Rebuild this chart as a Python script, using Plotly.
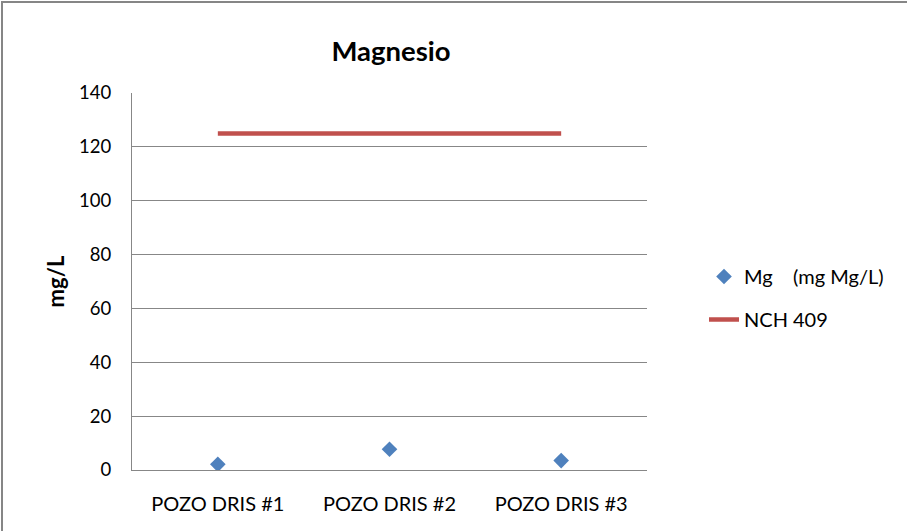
import plotly.graph_objects as go

categories = ["POZO DRIS #1", "POZO DRIS #2", "POZO DRIS #3"]
mg_values = [2.1, 7.7, 3.5]
nch_values = [125, 125, 125]
y_ticks = [0, 20, 40, 60, 80, 100, 120, 140]

FONT = "Lato, Carlito, 'Liberation Sans', sans-serif"
GRID = "#878787"

W, H = 907, 531
L, R, T, B = 132, 647, 93, 470  # plot area in pixels
PW, PH = R - L, B - T

fig = go.Figure()
fig.add_trace(go.Scatter(
    x=categories, y=mg_values, mode="markers",
    name="Mg    (mg Mg/L)", legendgroup="a",
    marker=dict(symbol="diamond", size=12, color="#4F81BD"),
))
fig.add_trace(go.Scatter(
    x=categories, y=nch_values, mode="lines",
    name="NCH 409", legendgroup="b",
    line=dict(color="#C0504D", width=4.5),
))

fig.update_layout(
    width=W, height=H,
    margin=dict(l=L, r=W - R, t=T, b=H - B),
    paper_bgcolor="white", plot_bgcolor="white",
    font=dict(family=FONT, size=20, color="black"),
    title=dict(text="<b>Magnesio</b>", x=391 / W, xanchor="center",
               y=1 - 51 / H, yanchor="middle",
               font=dict(family=FONT, size=27.5, color="black")),
    showlegend=True,
    legend=dict(x=(704 - L) / PW, xanchor="left", y=(B - 257) / PH, yanchor="top",
                traceorder="grouped", tracegroupgap=14,
                font=dict(family=FONT, size=20, color="black"),
                bgcolor="rgba(0,0,0,0)"),
    xaxis=dict(type="category", range=[-0.5, 2.5], showgrid=False,
               showline=True, linecolor=GRID, linewidth=1,
               ticks="", tickfont=dict(size=20), ticklabelstandoff=16),
    yaxis=dict(range=[0, 140], tickvals=y_ticks, showgrid=True,
               gridcolor=GRID, gridwidth=1, showline=True, linecolor=GRID,
               linewidth=1, ticks="", tickfont=dict(size=18.5), zeroline=False,
               ticklabelstandoff=16,
               title=dict(text="<b>mg/L</b>", font=dict(size=22), standoff=8)),
    shapes=[dict(type="rect", xref="paper", yref="paper",
                 x0=(2 - L) / PW, x1=(W + 10 - L) / PW,
                 y0=(B - H - 10) / PH, y1=(B - 2) / PH,
                 line=dict(color="#868686", width=2))],
)

fig.write_html("out.html", config={"displayModeBar": False},
               post_script="document.body.style.margin='0';")
